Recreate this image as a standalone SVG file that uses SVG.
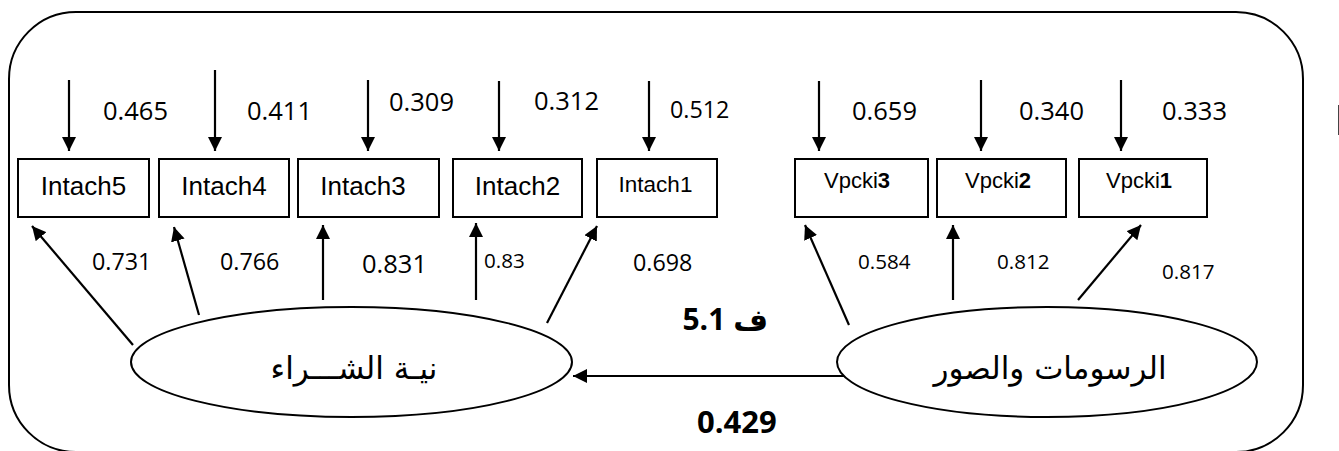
<svg xmlns="http://www.w3.org/2000/svg" width="1339" height="451" viewBox="0 0 1339 451">
<style>
.frame{fill:none;stroke:#000;stroke-width:2}
.box{fill:#fff;stroke:#000;stroke-width:2}
.ell{fill:#fff;stroke:#000;stroke-width:2}
.con{fill:none;stroke:#000;stroke-width:2.2}
.bt{font-family:"Liberation Sans",Arial,sans-serif;fill:#000;text-anchor:middle}
.num{font-family:"Open Sans","Noto Sans",sans-serif;fill:#000}
.n1{font-size:25.5px}
.n2{font-size:23.3px}
.n3{font-size:20.6px}
.ar{font-family:"DejaVu Sans","Noto Sans",sans-serif;fill:#000;text-anchor:middle;font-size:31px}
.bold{font-weight:bold}
</style>
<defs>
<marker id="ah" markerUnits="userSpaceOnUse" markerWidth="15" markerHeight="14" refX="14" refY="7" orient="auto">
<path d="M0,0 L14,7 L0,14 z" fill="#000"/>
</marker>
</defs>
<rect width="1339" height="451" fill="#fff"/>
<rect class="frame" x="9" y="12" width="1294" height="440" rx="67" ry="67"/>
<line x1="1338.5" y1="105" x2="1338.5" y2="135" stroke="#444" stroke-width="1"/>

<g id="connectors">
<line class="con" x1="69" y1="80" x2="69" y2="151" marker-end="url(#ah)"/>
<line class="con" x1="215" y1="70" x2="215" y2="151" marker-end="url(#ah)"/>
<line class="con" x1="368" y1="80" x2="368" y2="151" marker-end="url(#ah)"/>
<line class="con" x1="499" y1="81" x2="499" y2="151" marker-end="url(#ah)"/>
<line class="con" x1="649" y1="81" x2="649" y2="151" marker-end="url(#ah)"/>
<line class="con" x1="819" y1="81" x2="819" y2="151" marker-end="url(#ah)"/>
<line class="con" x1="981" y1="80" x2="981" y2="151" marker-end="url(#ah)"/>
<line class="con" x1="1121" y1="80" x2="1121" y2="151" marker-end="url(#ah)"/>
<line class="con" x1="133" y1="345" x2="32" y2="226" marker-end="url(#ah)"/>
<line class="con" x1="199" y1="315" x2="174" y2="227" marker-end="url(#ah)"/>
<line class="con" x1="323" y1="300" x2="323" y2="225" marker-end="url(#ah)"/>
<line class="con" x1="476" y1="300" x2="476" y2="223" marker-end="url(#ah)"/>
<line class="con" x1="547" y1="323" x2="597" y2="226" marker-end="url(#ah)"/>
<line class="con" x1="849" y1="325" x2="805" y2="225" marker-end="url(#ah)"/>
<line class="con" x1="953" y1="300" x2="953" y2="225" marker-end="url(#ah)"/>
<line class="con" x1="1078" y1="300" x2="1141" y2="225" marker-end="url(#ah)"/>
<line class="con" x1="850" y1="376" x2="573" y2="376" marker-end="url(#ah)"/>
</g>

<g id="Intach5"><rect class="box" x="18" y="159" width="131" height="58"/><text class="bt" x="83.5" y="195" font-size="26">Intach5</text></g>
<g id="Intach4"><rect class="box" x="159" y="159" width="130" height="58"/><text class="bt" x="224" y="195" font-size="26">Intach4</text></g>
<g id="Intach3"><rect class="box" x="298" y="159" width="141" height="58"/><text class="bt" x="363" y="195" font-size="26">Intach3</text></g>
<g id="Intach2"><rect class="box" x="453" y="159" width="129" height="58"/><text class="bt" x="517.5" y="195" font-size="26">Intach2</text></g>
<g id="Intach1"><rect class="box" x="597" y="159" width="120" height="58"/><text class="bt" x="655.5" y="192" font-size="22.5">Intach1</text></g>
<g id="Vpcki3"><rect class="box" x="795" y="159" width="133" height="58"/><text class="bt" x="857" y="188" font-size="22">Vpcki<tspan class="bold">3</tspan></text></g>
<g id="Vpcki2"><rect class="box" x="937" y="159" width="129" height="58"/><text class="bt" x="998" y="188" font-size="22">Vpcki<tspan class="bold">2</tspan></text></g>
<g id="Vpcki1"><rect class="box" x="1079" y="159" width="128" height="58"/><text class="bt" x="1139" y="188" font-size="22">Vpcki<tspan class="bold">1</tspan></text></g>

<g id="intention"><ellipse class="ell" cx="351.5" cy="362" rx="220.5" ry="55"/><text class="ar" x="354" y="379" font-size="32" direction="rtl">نيـة الشـــراء</text></g>
<g id="drawings"><ellipse class="ell" cx="1047" cy="362" rx="210" ry="55"/><text class="ar" x="1050" y="379" direction="rtl">الرسومات والصور</text></g>

<g id="labels">
<text class="num n1" x="103" y="120">0.465</text>
<text class="num n1" x="247" y="120">0.411</text>
<text class="num n1" x="389" y="111">0.309</text>
<text class="num n1" x="534" y="110">0.312</text>
<text class="num n2" x="670" y="118">0.512</text>
<text class="num n1" x="852" y="120">0.659</text>
<text class="num n1" x="1019" y="120">0.340</text>
<text class="num n1" x="1162" y="120">0.333</text>
<text class="num n2" x="92" y="270">0.731</text>
<text class="num n2" x="220" y="270">0.766</text>
<text class="num n1" x="362" y="273">0.831</text>
<text class="num n3" x="484" y="268">0.83</text>
<text class="num n2" x="633" y="271">0.698</text>
<text class="num n3" x="858" y="269">0.584</text>
<text class="num n3" x="997" y="269">0.812</text>
<text class="num n3" x="1162" y="279">0.817</text>
<text class="bold" x="768" y="330" font-size="30" text-anchor="start" direction="rtl" font-family="'Open Sans','DejaVu Sans',sans-serif">ف 5.1</text>
<text class="num bold" x="697" y="433" font-size="31">0.429</text>
</g>
</svg>
